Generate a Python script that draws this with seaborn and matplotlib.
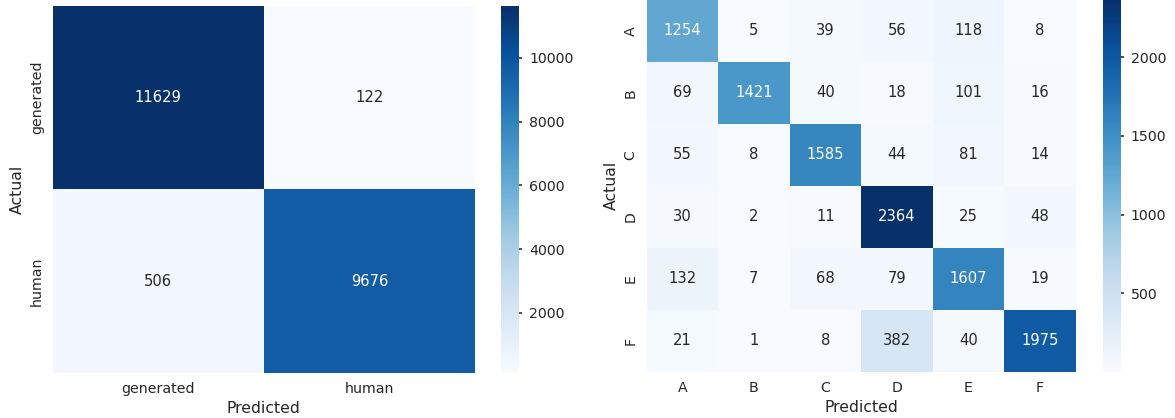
import numpy as np
import pandas as pd
import matplotlib
matplotlib.use("Agg")
import matplotlib.pyplot as plt
import seaborn as sns

# Binary confusion matrix
binary_labels = ["generated", "human"]
binary_row_generated = [11629, 122]
binary_row_human = [506, 9676]

# Multi-class confusion matrix
multi_labels = ["A", "B", "C", "D", "E", "F"]
row_A = [1254, 5, 39, 56, 118, 8]
row_B = [69, 1421, 40, 18, 101, 16]
row_C = [55, 8, 1585, 44, 81, 14]
row_D = [30, 2, 11, 2364, 25, 48]
row_E = [132, 7, 68, 79, 1607, 19]
row_F = [21, 1, 8, 382, 40, 1975]

sns.set_theme()
plt.rcParams['font.family'] = ['DejaVu Sans']
plt.rcParams['xtick.labelsize'] = 11.3
plt.rcParams['ytick.labelsize'] = 11.3
plt.rcParams['axes.labelsize'] = 12.5
plt.rcParams['xtick.major.size'] = 3.6
plt.rcParams['ytick.major.size'] = 3.6
plt.rcParams['xtick.major.pad'] = 3.5
plt.rcParams['ytick.major.pad'] = 3.5

W, H = 1175, 418
DPI = 90
fig = plt.figure(figsize=(W / DPI, H / DPI), dpi=DPI)
fig.patch.set_facecolor("white")

def ax_box(x0, y0, x1, y1):
    return [x0 / W, 1 - y1 / H, (x1 - x0) / W, (y1 - y0) / H]

ax1 = fig.add_axes(ax_box(52.7, 6, 475, 372.7))
cax1 = fig.add_axes(ax_box(501, 6, 519, 372.7))
ax2 = fig.add_axes(ax_box(646.5, 0, 1075.7, 371.7))
cax2 = fig.add_axes(ax_box(1102.7, 0, 1120.7, 371.7))

cm1 = pd.DataFrame([binary_row_generated, binary_row_human],
                   index=binary_labels, columns=binary_labels)
cm2 = pd.DataFrame([row_A, row_B, row_C, row_D, row_E, row_F],
                   index=multi_labels, columns=multi_labels)

annot_kws = {"size": 11.8}

sns.heatmap(cm1, annot=True, fmt="d", cmap="Blues", ax=ax1, cbar_ax=cax1,
            annot_kws=annot_kws)
ax1.set_xlabel("Predicted")
ax1.set_ylabel("Actual")

sns.heatmap(cm2, annot=True, fmt="d", cmap="Blues", ax=ax2, cbar_ax=cax2,
            annot_kws=annot_kws)
ax2.set_xlabel("Predicted")
ax2.set_ylabel("Actual")

for cax in (cax1, cax2):
    cax.tick_params(axis="y", length=2.5, pad=5.5, labelsize=11.3)

fig.savefig("out.png", dpi=DPI, facecolor="white")
